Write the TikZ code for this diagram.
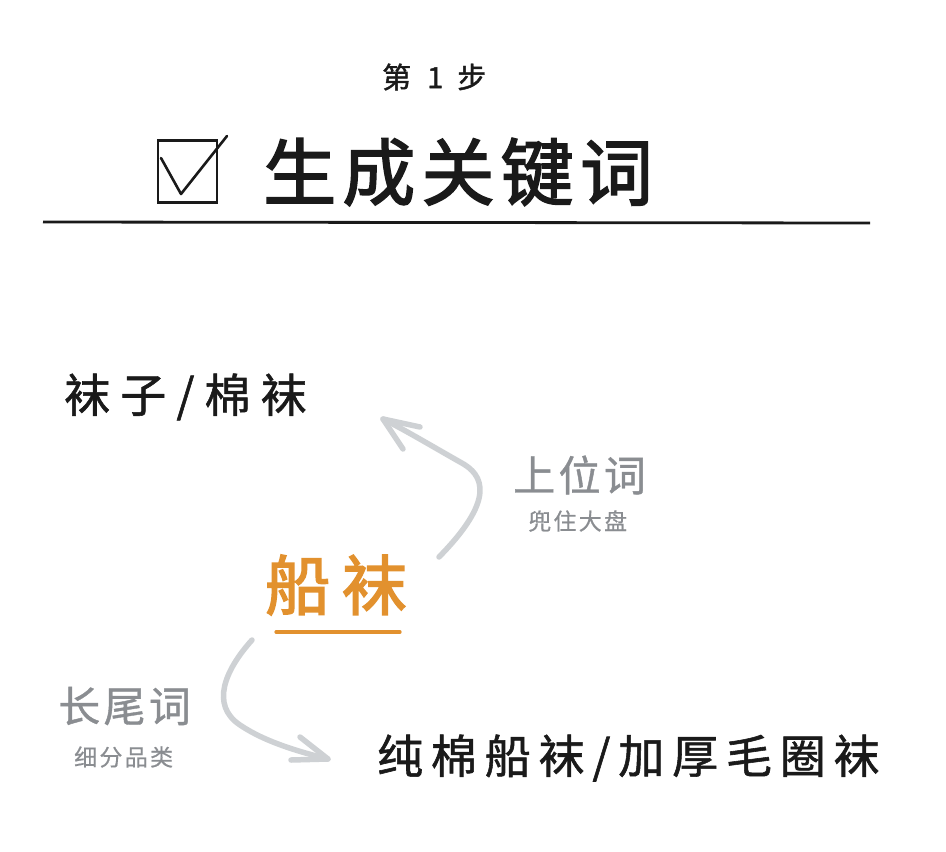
\documentclass[tikz,border=0pt]{standalone}
\usepackage{fontspec}
\newfontfamily\cjkT{Noto Sans CJK SC}[FakeBold=2.2,LetterSpace=8.5]
\newfontfamily\cjkS{Noto Sans CJK SC}[FakeBold=1.4]
\newfontfamily\cjkM{Noto Sans CJK SC}[FakeBold=2.4,LetterSpace=18]
\newfontfamily\cjkK{Noto Sans CJK SC}[FakeBold=1.2,LetterSpace=17]
\newfontfamily\cjkKK{Noto Sans CJK SC}[FakeBold=1.2,LetterSpace=22]
\newfontfamily\cjkL{Noto Sans CJK SC}[FakeBold=0.9,LetterSpace=8]
\newfontfamily\cjkU{Noto Sans CJK SC}[FakeBold=0.5,LetterSpace=10]
\definecolor{orangeW}{HTML}{E2912E}
\definecolor{grayT}{HTML}{8A8D91}
\definecolor{arrowG}{HTML}{CED1D4}
\definecolor{inkK}{HTML}{1A1A1A}
\tikzset{
  txt/.style={inner sep=0pt, anchor=west, text=inkK},
  arr/.style={draw=arrowG, line width=5.5pt, line cap=round, line join=round},
}
\begin{document}
\begin{tikzpicture}[x=1pt,y=-1pt]
\useasboundingbox[fill=white] (0,0) rectangle (946,852);
% step
\node[txt, font=\cjkS\fontsize{29}{34}\selectfont] (step1) at (382,77) {第\hspace{16pt}1\hspace{14pt}步};
% checkbox
\node[draw=inkK, line width=2.6pt, minimum width=59pt, minimum height=62pt, inner sep=0pt] (box) at (187.5,171.5) {};
\coordinate (ck1) at (161,158);
\coordinate (ck2) at (181,194);
\coordinate (ck3) at (227,136);
\draw[inkK, line width=2.6pt, line cap=round, line join=round] (ck1) -- (ck2) -- (ck3);
% title
\node[txt, font=\cjkT\fontsize{73}{80}\selectfont] (title) at (263,172) {生成关键词};
\coordinate (rl) at (43,222);
\coordinate (rr) at (870,223);
\draw[inkK, line width=2.8pt] (rl) -- (rr);
% top keyword
\node[txt, font=\cjkKK\fontsize{46}{52}\selectfont] (upper) at (64,397) {袜子/棉袜};
% upper label
\node[txt, text=grayT, font=\cjkL\fontsize{42}{46}\selectfont] (ulab) at (513,475) {上位词};
\node[txt, text=grayT, font=\cjkU\fontsize{23}{26}\selectfont] (usub) at (528,521) {兜住大盘};
% center
\node[txt, text=orangeW, font=\cjkM\fontsize{65}{70}\selectfont] (main) at (265,585) {船袜};
\coordinate (ml) at (276,632);
\coordinate (mr) at (400,632);
\draw[orangeW, line width=3.2pt, line cap=round] (ml) -- (mr);
% lower label
\node[txt, text=grayT, font=\cjkL\fontsize{42}{46}\selectfont] (llab) at (58,706) {长尾词};
\node[txt, text=grayT, font=\cjkU\fontsize{23}{26}\selectfont] (lsub) at (74,757) {细分品类};
% bottom keyword
\node[txt, font=\cjkK\fontsize{46}{52}\selectfont] (lower) at (377,758) {纯棉船袜/加厚毛圈袜};
% arrow up
\coordinate (a1s) at (439,557);
\coordinate (a1t) at (383,419);
\coordinate (a1h1) at (420,427);
\coordinate (a1h2) at (403,449);
\draw[arr] (a1s) .. controls (495,500) and (485,475) .. (460,462) .. controls (430,445) and (405,430) .. (a1t);
\draw[arr] (a1h1) -- (a1t) -- (a1h2);
% arrow down
\coordinate (a2s) at (252,640);
\coordinate (a2t) at (328,759);
\coordinate (a2h1) at (300,737);
\coordinate (a2h2) at (291,760);
\draw[arr] (a2s) .. controls (225,670) and (210,705) .. (240,725) .. controls (265,742) and (300,752) .. (a2t);
\draw[arr] (a2h1) -- (a2t) -- (a2h2);
\end{tikzpicture}
\end{document}
